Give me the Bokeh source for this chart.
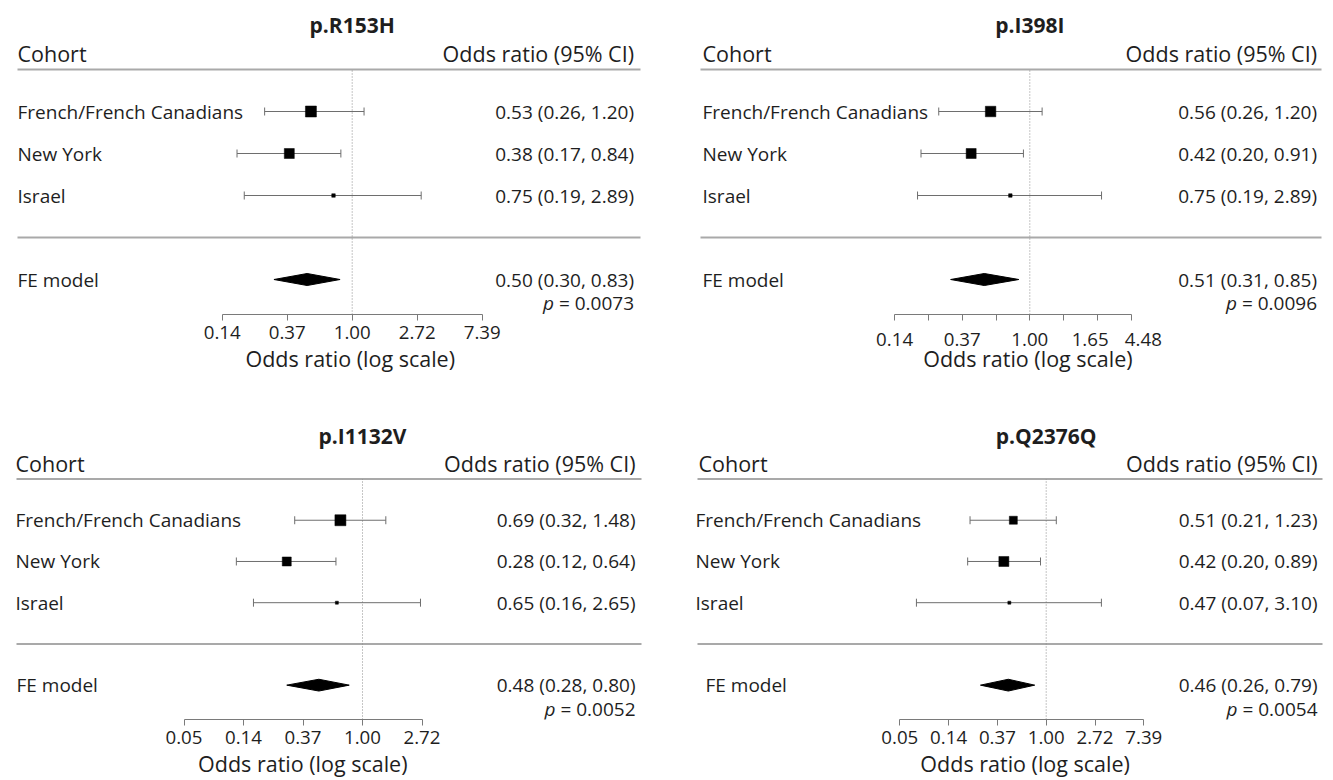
import numpy as np
from bokeh.plotting import figure
from bokeh.models import ColumnDataSource, FixedTicker, Range1d
from bokeh.layouts import column, row
from bokeh.embed import file_html
from bokeh.resources import INLINE
from bokeh.core.properties import value

# ---------------- data ----------------
cohorts = ["French/French Canadians", "New York", "Israel"]
summary_name = "FE model"
variants = ["p.R153H", "p.I398I", "p.I1132V", "p.Q2376Q"]

or_R153H = [0.53, 0.38, 0.75]
lo_R153H = [0.26, 0.17, 0.19]
hi_R153H = [1.20, 0.84, 2.89]

or_I398I = [0.56, 0.42, 0.75]
lo_I398I = [0.26, 0.20, 0.19]
hi_I398I = [1.20, 0.91, 2.89]

or_I1132V = [0.69, 0.28, 0.65]
lo_I1132V = [0.32, 0.12, 0.16]
hi_I1132V = [1.48, 0.64, 2.65]

or_Q2376Q = [0.51, 0.42, 0.47]
lo_Q2376Q = [0.21, 0.20, 0.07]
hi_Q2376Q = [1.23, 0.89, 3.10]

fe_or = [0.50, 0.51, 0.48, 0.46]
fe_lo = [0.30, 0.31, 0.28, 0.26]
fe_hi = [0.83, 0.85, 0.80, 0.79]
fe_p = ["0.0073", "0.0096", "0.0052", "0.0054"]

# square size (study weight), px
weight_R153H = [11, 10, 3.5]
weight_I398I = [10.5, 10, 3.5]
weight_I1132V = [11, 9, 3]
weight_Q2376Q = [8, 10, 3]

# axis ticks (log odds ratio) and their printed labels
ticks_R153H = [-2, -1, 0, 1, 2]
labels_R153H = ["0.14", "0.37", "1.00", "2.72", "7.39"]
ticks_I398I = [-2, -1, 0, 1, 1.5]
labels_I398I = ["0.14", "0.37", "1.00", "1.65", "4.48"]
minor_I398I = [-1.5, -0.5, 0.5]
ticks_I1132V = [-3, -2, -1, 0, 1]
labels_I1132V = ["0.05", "0.14", "0.37", "1.00", "2.72"]
ticks_Q2376Q = [-3, -2, -1, 0, 1, 2]
labels_Q2376Q = ["0.05", "0.14", "0.37", "1.00", "2.72", "7.39"]

header_left = "Cohort"
header_right = "Odds ratio (95% CI)"
x_title = "Odds ratio (log scale)"

panels_or = [or_R153H, or_I398I, or_I1132V, or_Q2376Q]
panels_lo = [lo_R153H, lo_I398I, lo_I1132V, lo_Q2376Q]
panels_hi = [hi_R153H, hi_I398I, hi_I1132V, hi_Q2376Q]
panels_w = [weight_R153H, weight_I398I, weight_I1132V, weight_Q2376Q]
panels_ticks = [ticks_R153H, ticks_I398I, ticks_I1132V, ticks_Q2376Q]
panels_labels = [labels_R153H, labels_I398I, labels_I1132V, labels_Q2376Q]
panels_minor = [[], minor_I398I, [], []]

# ---------------- layout (screen px of the page) ----------------
NB = "\u00a0"
LAYOUT = [
    dict(w=666, h=400, top=0, bottom=314, left=0, c=351.7, s=65.0, r3=111,
         xh=17, xn=17, xf=17, xr=633.5, l0=17, l1=640, pad_t={}, xlab=(6, 0), lab_off=2),
    dict(w=667, h=400, top=0, bottom=314, left=666, c=1029.3, s=67.6, r3=111,
         xh=702, xn=702, xf=702, xr=1316.5, l0=700, l1=1321,
         pad_t={1.0: (0, 3), 1.5: (5, 0)}, xlab=(10, 0), lab_off=-10),
    dict(w=666, h=380, top=400, bottom=725, left=0, c=362.0, s=59.5, r3=522,
         xh=15, xn=15, xf=16, xr=635, l0=16, l1=641, pad_t={}, xlab=(0, 11), lab_off=2),
    dict(w=667, h=380, top=400, bottom=725, left=666, c=1045.7, s=48.8, r3=522,
         xh=698, xn=695, xf=705, xr=1317, l0=697, l1=1322, pad_t={}, xlab=(9, 0), lab_off=2),
]
STEP = 42.0
ROWS = [3, 2, 1]
FONT = value("Open Sans")
TXT = "#1e1e1e"
SMALL = "19px"
BIG = "21.5px"

Y_TITLE, Y_HEAD, Y_HLINE, Y_SEP, Y_FE, Y_P = 5.05, 4.38, 4.0, 0.0, -1.0, -1.57


def build(i):
    L = LAYOUT[i]
    px2x = lambda px: (px - L["c"]) / L["s"]
    px2y = lambda py: ROWS[0] - (py - L["r3"]) / STEP

    x0 = px2x(L["left"])
    x1 = px2x(L["left"] + L["w"])
    y0 = px2y(L["bottom"])
    y1 = px2y(L["top"])

    p = figure(width=L["w"], height=L["h"], x_range=Range1d(x0, x1), y_range=Range1d(y0, y1),
               output_backend="svg", toolbar_location=None, y_axis_location=None,
               min_border_left=0, min_border_right=0, min_border_top=0,
               min_border_bottom=L["h"] - (L["bottom"] - L["top"]))
    p.outline_line_color = None
    p.grid.visible = False
    p.background_fill_color = "white"
    p.border_fill_color = "white"

    est = np.log(np.array(panels_or[i]))
    lo = np.log(np.array(panels_lo[i]))
    hi = np.log(np.array(panels_hi[i]))
    src = ColumnDataSource(dict(y=ROWS, est=est, lo=lo, hi=hi, size=panels_w[i],
                                name=cohorts,
                                ci=[f"{a:.2f} ({b:.2f}, {c:.2f})" for a, b, c in
                                    zip(panels_or[i], panels_lo[i], panels_hi[i])]))

    # separator lines
    p.segment(x0=[px2x(L["l0"])] * 2, x1=[px2x(L["l1"])] * 2, y0=[Y_HLINE, Y_SEP], y1=[Y_HLINE, Y_SEP],
              line_color="#a9a9a9", line_width=2)
    # reference line at OR = 1
    p.segment(x0=[0], x1=[0], y0=[y0], y1=[Y_HLINE], line_color="#8c8c8c", line_width=1, line_dash="1 2")

    # CIs
    p.segment(x0="lo", x1="hi", y0="y", y1="y", source=src, line_color="#6e6e6e", line_width=1)
    p.dash(x="lo", y="y", size=8, angle=np.pi / 2, source=src, line_color="#6e6e6e", line_width=1)
    p.dash(x="hi", y="y", size=8, angle=np.pi / 2, source=src, line_color="#6e6e6e", line_width=1)
    p.scatter(x="est", y="y", size="size", marker="square", source=src,
              fill_color="black", line_color="black", line_width=0.5)

    # summary diamond
    fe, fl, fh = np.log(fe_or[i]), np.log(fe_lo[i]), np.log(fe_hi[i])
    hh = 6.0 / STEP
    p.patch(x=[fl, fe, fh, fe], y=[Y_FE, Y_FE + hh, Y_FE, Y_FE - hh], fill_color="black", line_color="black")

    # texts
    p.text(x=[0], y=[Y_TITLE], text=[variants[i]], text_font=FONT, text_font_size="21px",
           text_font_style="bold", text_align="center", text_baseline="middle", text_color=TXT)
    p.text(x=[px2x(L["xh"])], y=[Y_HEAD], text=[header_left], text_font=FONT, text_font_size=BIG,
           text_align="left", text_baseline="middle", text_color=TXT)
    p.text(x=[px2x(L["xr"])], y=[Y_HEAD], text=[header_right], text_font=FONT, text_font_size=BIG,
           text_align="right", text_baseline="middle", text_color=TXT)
    src_names = ColumnDataSource(dict(x=[px2x(L["xn"])] * 3, y=ROWS, t=cohorts))
    p.text(x="x", y="y", text="t", source=src_names, text_font=FONT, text_font_size=SMALL,
           text_align="left", text_baseline="middle", text_color=TXT)
    src_ci = ColumnDataSource(dict(x=[px2x(L["xr"])] * 3, y=ROWS, t=src.data["ci"]))
    p.text(x="x", y="y", text="t", source=src_ci, text_font=FONT, text_font_size=SMALL,
           text_align="right", text_baseline="middle", text_color=TXT)
    p.text(x=[px2x(L["xf"])], y=[Y_FE], text=[summary_name], text_font=FONT, text_font_size=SMALL,
           text_align="left", text_baseline="middle", text_color=TXT)
    p.text(x=[px2x(L["xr"])], y=[Y_FE], text=[f"{fe_or[i]:.2f} ({fe_lo[i]:.2f}, {fe_hi[i]:.2f})"],
           text_font=FONT, text_font_size=SMALL, text_align="right", text_baseline="middle", text_color=TXT)
    p.text(x=[px2x(L["xr"])], y=[Y_P], text=[f"= {fe_p[i]}"], text_font=FONT, text_font_size=SMALL,
           text_align="right", text_baseline="middle", text_color=TXT)
    p.text(x=[px2x(L["xr"])], y=[Y_P], text=["p"], x_offset=-80, text_font=FONT, text_font_size=SMALL,
           text_font_style="italic", text_align="right", text_baseline="middle", text_color=TXT)

    # x axis
    ax = p.xaxis[0]
    ticks = panels_ticks[i]
    ax.ticker = FixedTicker(ticks=ticks, minor_ticks=panels_minor[i])
    overrides = {}
    for t, lab in zip(ticks, panels_labels[i]):
        lpad, rpad = L["pad_t"].get(float(t), (0, 0))
        overrides[float(t)] = NB * lpad + lab + NB * rpad
    ax.major_label_overrides = overrides
    all_t = list(ticks) + list(panels_minor[i])
    ax.bounds = (min(all_t), max(all_t))
    ax.axis_line_color = "#7a7a7a"
    ax.major_tick_line_color = "#7a7a7a"
    ax.minor_tick_line_color = "#7a7a7a"
    ax.major_tick_in = 0
    ax.major_tick_out = 6
    ax.minor_tick_in = 0
    ax.minor_tick_out = 6
    ax.major_label_standoff = 5
    ax.major_label_text_font = "Open Sans"
    ax.major_label_text_font_size = "18.7px"
    ax.major_label_text_color = TXT
    lp, rp = L["xlab"]
    ax.axis_label = NB * lp + x_title + NB * rp
    ax.axis_label_text_font = "Open Sans"
    ax.axis_label_text_font_size = BIG
    ax.axis_label_text_font_style = "normal"
    ax.axis_label_text_color = TXT
    ax.axis_label_standoff = L["lab_off"]
    return p


figs = [build(i) for i in range(4)]
layout = column(row(figs[0], figs[1]), row(figs[2], figs[3]))
open("out.html", "w").write(file_html(layout, INLINE))
